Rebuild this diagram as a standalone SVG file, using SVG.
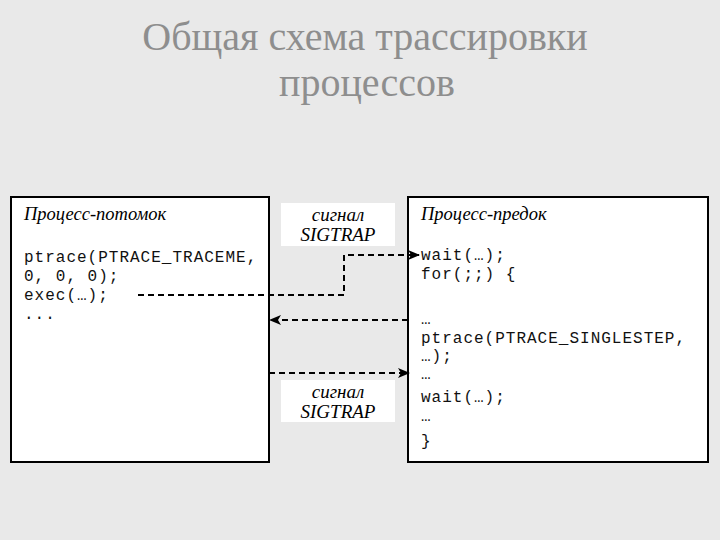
<svg xmlns="http://www.w3.org/2000/svg" width="720" height="540" viewBox="0 0 720 540">
<style>
.title{font-family:"Liberation Serif","Times New Roman",serif;font-size:40px;fill:#8e8e8e;text-anchor:middle}
.box{fill:#fff;stroke:#000;stroke-width:2}
.lbl{fill:#fff;stroke:none}
.hdr{font-family:"Liberation Serif","Times New Roman",serif;font-style:italic;font-size:18.5px;fill:#000}
.sig{font-family:"Liberation Serif","Times New Roman",serif;font-style:italic;font-size:19px;fill:#000;text-anchor:middle}
.code{font-family:"Liberation Mono","Courier New",monospace;font-size:16px;letter-spacing:1px;fill:#111}
.con{fill:none;stroke:#000;stroke-width:2;stroke-dasharray:6 4}
</style>
<defs>
<marker id="ah" viewBox="0 0 12 10" refX="11" refY="5" markerWidth="12" markerHeight="10" markerUnits="userSpaceOnUse" orient="auto">
<path d="M0,0 L12,5 L0,10 L3,5 z" fill="#000"/>
</marker>
</defs>
<rect width="720" height="540" fill="#e9e9e9"/>
<g id="title">
<text class="title" x="365" y="50">Общая схема трассировки</text>
<text class="title" x="367" y="96">процессов</text>
</g>
<g id="child">
<rect class="box" x="11" y="197" width="258" height="265"/>
<text class="hdr" x="24" y="220">Процесс-потомок</text>
<text class="code" x="24" y="262">ptrace(PTRACE_TRACEME,</text>
<text class="code" x="24" y="281">0, 0, 0);</text>
<text class="code" x="24" y="300">exec(…);</text>
<text class="code" x="24" y="319">...</text>
</g>
<g id="parent">
<rect class="box" x="408" y="197" width="300" height="265"/>
<text class="hdr" x="421" y="220">Процесс-предок</text>
<text class="code" x="421" y="260">wait(…);</text>
<text class="code" x="421" y="279">for(;;) {</text>
<text class="code" x="421" y="324">…</text>
<text class="code" x="421" y="343">ptrace(PTRACE_SINGLESTEP,</text>
<text class="code" x="421" y="361">…);</text>
<text class="code" x="421" y="379">…</text>
<text class="code" x="421" y="402">wait(…);</text>
<text class="code" x="421" y="421">…</text>
<text class="code" x="421" y="446">}</text>
</g>
<g id="signal1">
<rect class="lbl" x="281" y="203" width="114" height="43"/>
<text class="sig" x="338" y="221">сигнал</text>
<text class="sig" x="338" y="241">SIGTRAP</text>
</g>
<g id="signal2">
<rect class="lbl" x="281" y="380" width="114" height="42"/>
<text class="sig" x="338" y="398">сигнал</text>
<text class="sig" x="338" y="418">SIGTRAP</text>
</g>
<g id="connectors">
<path class="con" d="M138,295 H344 V255 H419" marker-end="url(#ah)"/>
<path class="con" d="M408,320 H270" marker-end="url(#ah)"/>
<path class="con" d="M269,373 H409" marker-end="url(#ah)"/>
</g>
</svg>
